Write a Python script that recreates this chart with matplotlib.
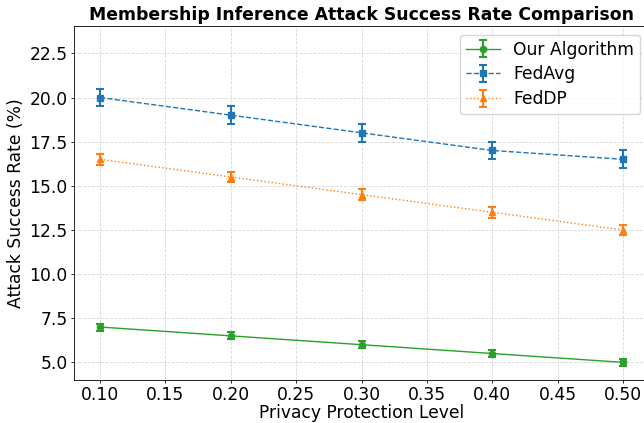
import matplotlib
matplotlib.use("Agg")
import matplotlib.pyplot as plt

privacy_levels = [0.1, 0.2, 0.3, 0.4, 0.5]

our_rate = [7.0, 6.5, 6.0, 5.5, 5.0]
our_err = [0.2, 0.2, 0.2, 0.2, 0.2]

fedavg_rate = [20.0, 19.0, 18.0, 17.0, 16.5]
fedavg_err = [0.5, 0.5, 0.5, 0.5, 0.5]

feddp_rate = [16.5, 15.5, 14.5, 13.5, 12.5]
feddp_err = [0.3, 0.3, 0.3, 0.3, 0.3]

fig = plt.figure(figsize=(6.44, 4.23), dpi=100)
ax = fig.add_axes([74 / 644, 43 / 423, 575 / 644, 354 / 423])

common = dict(markersize=4.5, capsize=3, capthick=1.5, elinewidth=1.5, linewidth=1.0)
ax.errorbar(privacy_levels, our_rate, yerr=our_err, fmt='-o', color='tab:green',
            label='Our Algorithm', **common)
ax.errorbar(privacy_levels, fedavg_rate, yerr=fedavg_err, fmt='--s', color='tab:blue',
            label='FedAvg', **common)
ax.errorbar(privacy_levels, feddp_rate, yerr=feddp_err, fmt=':^', color='tab:orange',
            label='FedDP', **common)

ax.set_xlim(0.08, 0.52)
ax.set_ylim(4.0, 24.05)
ax.set_xticks([0.10, 0.15, 0.20, 0.25, 0.30, 0.35, 0.40, 0.45, 0.50])
ax.set_yticks([5.0, 7.5, 10.0, 12.5, 15.0, 17.5, 20.0, 22.5])
ax.xaxis.set_major_formatter(matplotlib.ticker.FormatStrFormatter('%.2f'))
ax.yaxis.set_major_formatter(matplotlib.ticker.FormatStrFormatter('%.1f'))
ax.tick_params(labelsize=12.3, length=2.3, pad=2.3, width=0.6)
for spine in ax.spines.values():
    spine.set_linewidth(0.6)

ax.set_xlabel('Privacy Protection Level', fontsize=12.3, labelpad=0)
ax.set_ylabel('Attack Success Rate (%)', fontsize=12.3, labelpad=3)
ax.set_title('Membership Inference Attack Success Rate Comparison',
             fontsize=12.4, fontweight='bold', pad=4)
ax.grid(True, linestyle='--', linewidth=0.6, alpha=0.5)
ax.legend(loc='upper right', fontsize=12.3, labelspacing=0.4, borderpad=0.35)

fig.savefig('out.png', dpi=100)
